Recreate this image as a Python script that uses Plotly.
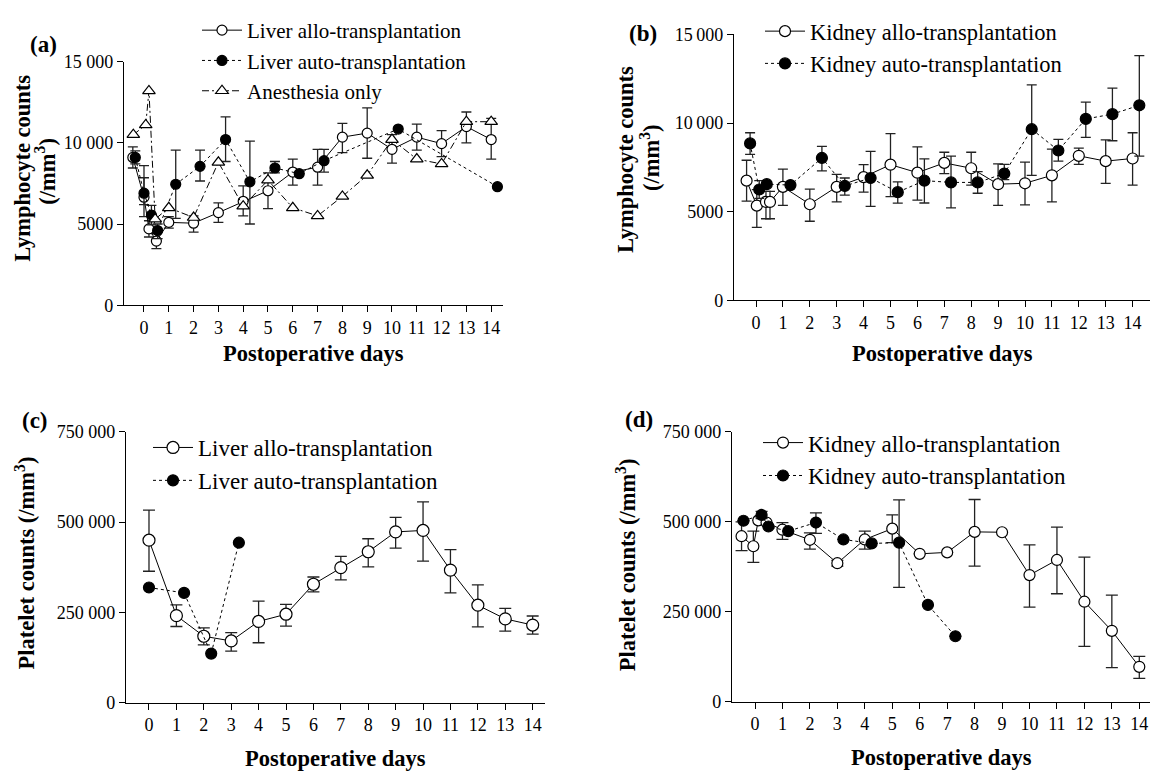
import plotly.graph_objects as go

W, H = 1152, 777

days = list(range(15))
day_labels = [str(d) for d in days]

# ---------------- Panel (a): lymphocytes, liver ----------------
a_allo_x = [-0.45, 0.0, 0.2, 0.5, 1, 2, 3, 4, 5, 6, 7, 8, 9, 10, 11, 12, 13, 14]
a_allo_y = [9100, 6650, 4700, 3950, 5100, 5050, 5700, 6400, 7050, 8200, 8500, 10350, 10600, 9600, 10350, 9950, 11000, 10200]
a_allo_ep = [650, 1200, 500, 450, 350, 450, 600, 950, 1100, 800, 1100, 850, 1550, 900, 800, 800, 900, 1300]
a_allo_em = [650, 1200, 500, 470, 350, 550, 600, 900, 1100, 800, 1100, 950, 1550, 850, 800, 800, 1000, 1200]

a_auto_x = [-0.35, 0.0, 0.3, 0.55, 1.28, 2.26, 3.29, 4.27, 5.28, 6.26, 7.26, 10.25, 14.25]
a_auto_y = [9100, 6900, 5550, 4600, 7450, 8550, 10200, 7600, 8450, 8100, 8900, 10850, 7300]
a_auto_ep = [400, 1700, 600, 400, 2100, 1000, 1400, 2500, 400, 0, 700, 0, 0]
a_auto_em = [400, 700, 600, 500, 2100, 900, 1350, 2600, 300, 0, 700, 0, 0]

a_anes_x = [-0.43, 0.07, 0.2, 0.45, 1, 2, 3, 4, 5, 6, 7, 8, 9, 10, 11, 12, 13, 14]
a_anes_y = [10500, 11100, 13200, 5300, 6000, 5400, 8800, 6100, 7700, 6000, 5500, 6700, 8000, 10200, 9000, 8700, 11300, 11300]

# ---------------- Panel (b): lymphocytes, kidney ----------------
b_allo_x = [-0.35, 0.03, 0.37, 0.52, 1, 2, 3, 4, 5, 6, 7, 8, 9, 10, 11, 12, 13, 14]
b_allo_y = [6750, 5340, 5550, 5550, 6400, 5420, 6400, 6950, 7650, 7200, 7750, 7450, 6550, 6600, 7050, 8150, 7850, 8000]
b_allo_ep = [1150, 900, 600, 600, 1000, 850, 700, 700, 1750, 1450, 600, 900, 1150, 1200, 1480, 430, 1200, 1450]
b_allo_em = [1150, 1220, 950, 950, 1050, 960, 850, 850, 1800, 1550, 600, 950, 1200, 1220, 1500, 480, 1250, 1500]

b_auto_x = [-0.22, 0.12, 0.4, 1.28, 2.45, 3.3, 4.26, 5.27, 6.26, 7.25, 8.24, 9.23, 10.25, 11.24, 12.26, 13.25, 14.25]
b_auto_y = [8850, 6250, 6550, 6500, 8030, 6450, 6900, 6100, 6750, 6650, 6650, 7150, 9650, 8450, 10230, 10500, 11000]
b_auto_ep = [600, 500, 0, 0, 650, 450, 1500, 580, 1230, 1480, 610, 520, 2500, 630, 950, 1470, 2800]
b_auto_em = [620, 500, 0, 0, 730, 520, 1600, 620, 1260, 1440, 610, 340, 2600, 600, 1040, 1500, 2870]

# ---------------- Panel (c): platelets, liver ----------------
c_allo_x = days
c_allo_y = [450000, 241000, 184000, 171000, 225000, 245000, 328000, 374000, 418000, 473000, 477000, 367000, 270000, 232000, 215000]
c_allo_ep = [83000, 30000, 23000, 23000, 56000, 27000, 20000, 31000, 36000, 40000, 79000, 57000, 56000, 29000, 25000]
c_allo_em = [86000, 30000, 24000, 28000, 59000, 33000, 21000, 34000, 42000, 45000, 85000, 63000, 60000, 34000, 25000]

c_auto_x = [0.0, 1.28, 2.27, 3.28]
c_auto_y = [319000, 304000, 136000, 443000]

# ---------------- Panel (d): platelets, kidney ----------------
d_allo_x = [-0.49, -0.06, 0.12, 0.42, 1, 2, 3, 4, 5, 6, 7, 8, 9, 10, 11, 12, 13, 14]
d_allo_y = [460000, 432000, 504000, 498000, 478000, 450000, 385000, 451000, 481000, 411000, 415000, 472000, 471000, 352000, 394000, 278000, 197000, 97000]
d_allo_ep = [40000, 42000, 0, 0, 20000, 19000, 8000, 23000, 38000, 0, 0, 90000, 0, 84000, 91000, 124000, 99000, 29000]
d_allo_em = [40000, 45000, 0, 0, 27000, 26000, 8000, 27000, 39000, 0, 0, 95000, 0, 89000, 94000, 124000, 102000, 32000]

d_auto_x = [-0.42, 0.24, 0.49, 1.21, 2.22, 3.22, 4.25, 5.25, 6.3, 7.3]
d_auto_y = [503000, 519000, 487000, 474000, 498000, 451000, 440000, 442000, 269000, 182000]
d_auto_ep = [0, 10000, 0, 0, 27000, 0, 0, 119000, 0, 0]
d_auto_em = [0, 10000, 0, 0, 30000, 0, 0, 124000, 0, 0]

lymph_ticks = [0, 5000, 10000, 15000]
a_lymph_labels = ["0", "5000", "10 000", "15 000"]
b_lymph_labels = ["0", "5000", "10\u2009000", "15\u2009000"]
plt_ticks = [0, 250000, 500000, 750000]
plt_labels = ["0", "250 000", "500 000", "750 000"]

SERIF = "Liberation Serif"
AUTO_DASH = "3px,3px"
ANES_DASH = "7px,3px,2px,3px"


def px(x):
    return x / W


def py(y):
    return 1 - y / H


fig = go.Figure()


def add(x, y, name, xa, ya, legend, symbol, fill, dash, size, ep=None, em=None, capw=5):
    if ep is not None:
        err = dict(type="data", symmetric=False, array=ep, arrayminus=em,
                   color="#222", thickness=1.3, width=capw)
    else:
        err = dict(visible=False)
    fig.add_trace(go.Scatter(
        x=x, y=y, name=name, mode="lines+markers", xaxis=xa, yaxis=ya, legend=legend,
        line=dict(color="black", width=1, dash=dash),
        marker=dict(symbol=symbol, size=size, color=fill, line=dict(color="black", width=1.2)),
        error_y=err, cliponaxis=False))


add(a_allo_x, a_allo_y, "Liver allo-transplantation", "x", "y", "legend",
    "circle", "white", "solid", 10, a_allo_ep, a_allo_em)
add(a_auto_x, a_auto_y, "Liver auto-transplantation", "x", "y", "legend",
    "circle", "black", AUTO_DASH, 10, a_auto_ep, a_auto_em)
add(a_anes_x, a_anes_y, "Anesthesia only", "x", "y", "legend",
    "triangle-up", "white", ANES_DASH, 11)

add(b_allo_x, b_allo_y, "Kidney allo-transplantation", "x2", "y2", "legend2",
    "circle", "white", "solid", 11, b_allo_ep, b_allo_em)
add(b_auto_x, b_auto_y, "Kidney auto-transplantation", "x2", "y2", "legend2",
    "circle", "black", AUTO_DASH, 11, b_auto_ep, b_auto_em)

add(c_allo_x, c_allo_y, "Liver allo-transplantation", "x3", "y3", "legend3",
    "circle", "white", "solid", 12, c_allo_ep, c_allo_em, capw=6)
add(c_auto_x, c_auto_y, "Liver auto-transplantation", "x3", "y3", "legend3",
    "circle", "black", AUTO_DASH, 11)

add(d_allo_x, d_allo_y, "Kidney allo-transplantation", "x4", "y4", "legend4",
    "circle", "white", "solid", 11, d_allo_ep, d_allo_em, capw=6)
add(d_auto_x, d_auto_y, "Kidney auto-transplantation", "x4", "y4", "legend4",
    "circle", "black", AUTO_DASH, 11, d_auto_ep, d_auto_em, capw=6)

tickfont = dict(family=SERIF, size=18, color="black")


def xax(dom, rng, anchor):
    return dict(domain=dom, range=rng, anchor=anchor, tickmode="array", tickvals=days,
                ticktext=day_labels, showline=True, linecolor="black", linewidth=1.2,
                ticks="outside", ticklen=6, tickwidth=1.2, tickcolor="black",
                showgrid=False, zeroline=False, tickfont=tickfont, fixedrange=True)


def yax(dom, rng, anchor, tv, tt):
    return dict(domain=dom, range=rng, anchor=anchor, tickmode="array", tickvals=tv,
                ticktext=tt, showline=True, linecolor="black", linewidth=1.2,
                ticks="outside", ticklen=6, tickwidth=1.2, tickcolor="black",
                showgrid=False, zeroline=False, tickfont=tickfont, fixedrange=True)


def leg(x, y, size):
    return dict(x=px(x), y=py(y), xanchor="left", yanchor="top", xref="paper", yref="paper",
                font=dict(family=SERIF, size=size, color="black"),
                bgcolor="rgba(0,0,0,0)", borderwidth=0, tracegroupgap=0, itemwidth=40,
                itemclick=False, itemdoubleclick=False)


fig.update_layout(
    width=W, height=H, margin=dict(l=0, r=0, t=0, b=0),
    paper_bgcolor="white", plot_bgcolor="white",
    font=dict(family=SERIF, color="black"),
    xaxis=xax([px(124), px(503)], [-0.806, 14.476], "y"),
    yaxis=yax([py(303), py(53)], [0, 15000], "x", lymph_ticks, a_lymph_labels),
    xaxis2=xax([px(734), px(1150)], [-0.818, 14.647], "y2"),
    yaxis2=yax([py(298), py(25)], [0, 15000], "x2", lymph_ticks, b_lymph_labels),
    xaxis3=xax([px(126), px(545)], [-0.839, 14.45], "y3"),
    yaxis3=yax([py(711), py(433)], [0, 750000], "x3", plt_ticks, plt_labels),
    xaxis4=xax([px(732), px(1150)], [-0.838, 14.39], "y4"),
    yaxis4=yax([py(710), py(433)], [0, 750000], "x4", plt_ticks, plt_labels),
    legend=leg(197, 0, 21),
    legend2=leg(760, 0, 22.5),
    legend3=leg(148, 427, 23),
    legend4=leg(758, 422, 23),
    showlegend=True,
)

annos = []


def text(x, y, t, size=20, angle=0):
    annos.append(dict(x=px(x), y=py(y), xref="paper", yref="paper", text=t, showarrow=False,
                      xanchor="center", yanchor="middle", textangle=angle,
                      font=dict(family=SERIF, size=size, color="black")))


# panel labels
text(43, 35, "<b>(a)</b>", 23)
text(643, 24, "<b>(b)</b>", 23)
text(35, 421, "<b>(c)</b>", 23)
text(639, 420, "<b>(d)</b>", 23)

# x titles
text(313, 353, "<b>Postoperative days</b>", 22.5)
text(942, 353, "<b>Postoperative days</b>", 22.5)
text(335, 768, "<b>Postoperative days</b>", 22.5)
text(941, 767, "<b>Postoperative days</b>", 22.5)

# y titles
text(23, 163, "<b>Lymphocyte counts</b>", 22.5, -90)
text(45, 166, "<b>(/mm<sup>3</sup>)</b>", 22.5, -90)
text(625, 154, "<b>Lymphocyte counts</b>", 22.5, -90)
text(650, 152, "<b>(/mm<sup>3</sup>)</b>", 22.5, -90)
text(25, 568, "<b>Platelet counts (/mm<sup>3</sup>)</b>", 22.5, -90)
text(626, 570, "<b>Platelet counts (/mm<sup>3</sup>)</b>", 22.5, -90)

fig.update_layout(annotations=annos)

fig.write_html("out.html")
